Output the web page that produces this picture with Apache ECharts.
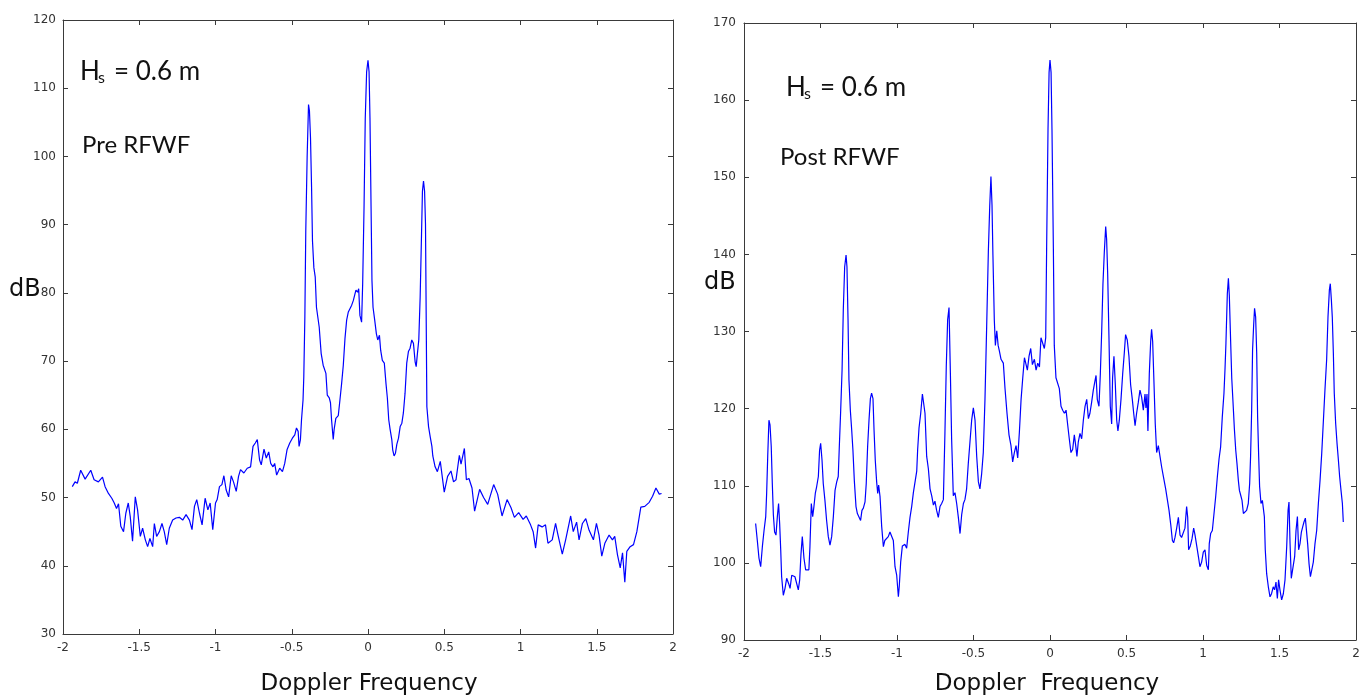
<!DOCTYPE html>
<html>
<head>
<meta charset="utf-8">
<script src="https://cdn.jsdelivr.net/npm/echarts@6/dist/echarts.min.js"></script>
<style>
html,body{margin:0;padding:0;background:#fff;}
#chart{width:1372px;height:700px;}
</style>
</head>
<body>
<div id="chart"></div>
<script>
// ---------- DATA ----------
const xTicks = [-2, -1.5, -1, -0.5, 0, 0.5, 1, 1.5, 2];
const leftYTicks = [30, 40, 50, 60, 70, 80, 90, 100, 110, 120];
const rightYTicks = [90, 100, 110, 120, 130, 140, 150, 160, 170];

const leftFreq = [
-1.939,-1.921,-1.906,-1.884,-1.855,-1.818,-1.796,-1.768,-1.741,-1.724,-1.702,-1.680,-1.664,-1.649,-1.636,-1.621,-1.603,-1.588,-1.572,-1.559,
-1.544,-1.526,-1.511,-1.493,-1.478,-1.460,-1.445,-1.430,-1.412,-1.401,-1.386,-1.368,-1.351,-1.336,-1.320,-1.303,-1.281,-1.259,-1.237,-1.215,
-1.193,-1.171,-1.154,-1.138,-1.123,-1.105,-1.088,-1.068,-1.050,-1.035,-1.018,-1.000,-0.989,-0.974,-0.958,-0.945,-0.930,-0.914,-0.897,-0.882,
-0.864,-0.849,-0.836,-0.814,-0.792,-0.770,-0.754,-0.739,-0.726,-0.711,-0.700,-0.682,-0.667,-0.651,-0.638,-0.623,-0.612,-0.599,-0.579,-0.561,
-0.546,-0.531,-0.513,-0.496,-0.480,-0.469,-0.458,-0.452,-0.443,-0.436,-0.426,-0.421,-0.414,-0.408,-0.399,-0.390,-0.384,-0.377,-0.370,-0.364,
-0.355,-0.346,-0.338,-0.320,-0.307,-0.294,-0.276,-0.267,-0.254,-0.246,-0.239,-0.228,-0.222,-0.211,-0.195,-0.184,-0.173,-0.162,-0.151,-0.140,
-0.129,-0.118,-0.107,-0.096,-0.085,-0.079,-0.068,-0.061,-0.053,-0.042,-0.035,-0.026,-0.018,-0.009,0.000,0.007,0.013,0.020,0.026,0.033,
0.044,0.055,0.064,0.075,0.083,0.094,0.107,0.118,0.127,0.136,0.145,0.156,0.162,0.171,0.180,0.189,0.200,0.211,0.222,0.232,
0.243,0.254,0.265,0.276,0.287,0.298,0.309,0.316,0.324,0.333,0.342,0.351,0.357,0.364,0.371,0.377,0.386,0.397,0.408,0.419,
0.425,0.440,0.455,0.474,0.500,0.522,0.544,0.561,0.577,0.599,0.610,0.632,0.645,0.662,0.682,0.699,0.732,0.758,0.785,0.824,
0.850,0.879,0.912,0.938,0.960,0.988,1.017,1.038,1.066,1.083,1.099,1.116,1.142,1.164,1.180,1.208,1.230,1.246,1.274,1.296,
1.329,1.346,1.368,1.384,1.406,1.428,1.450,1.478,1.498,1.515,1.533,1.553,1.581,1.603,1.618,1.636,1.654,1.669,1.684,1.697,
1.719,1.741,1.763,1.789,1.815,1.844,1.866,1.888,1.910,1.925
];
const leftDb = [
51.6,52.3,52.1,54.0,52.7,54.0,52.6,52.3,53.0,51.6,50.6,49.9,49.2,48.4,49.1,45.8,45.0,47.7,49.2,47.2,
43.6,50.1,48.2,44.3,45.5,43.8,42.8,44.0,42.8,46.2,44.3,45.0,46.2,45.0,43.1,45.5,46.7,47.0,47.1,46.7,
47.5,46.7,45.3,48.7,49.7,47.7,46.0,49.9,48.2,49.2,45.3,49.2,49.7,51.6,51.9,53.2,51.1,50.1,53.2,52.3,
50.9,53.1,54.1,53.6,54.3,54.5,57.5,58.0,58.5,55.5,54.8,57.1,55.8,56.7,55.0,54.5,55.0,53.3,54.3,53.8,
55.0,57.0,58.0,58.7,59.2,60.2,59.7,57.5,58.5,61.4,64.3,67.7,76.5,89.1,100.0,107.6,106.7,102.7,95.4,87.6,
83.7,82.3,77.9,75.0,71.1,69.4,68.2,65.0,64.6,63.9,61.4,58.5,60.0,61.6,62.0,64.3,66.7,69.4,73.3,76.0,
77.2,77.0,78.2,78.9,79.9,80.4,80.1,80.6,76.7,75.7,81.3,92.5,105.6,112.4,114.1,112.4,105.6,92.7,81.8,77.9,
76.0,74.0,73.1,73.8,71.6,70.1,69.7,66.7,64.6,61.4,60.0,58.5,57.0,56.1,56.5,57.8,58.7,60.4,60.9,62.4,
65.3,69.7,71.4,71.9,73.1,72.6,69.9,69.2,71.1,73.1,79.4,88.6,94.9,96.4,94.9,90.1,63.3,60.4,58.9,57.5,
56.1,54.5,53.8,55.3,50.8,53.1,53.9,52.3,52.6,56.2,54.9,57.2,52.6,52.8,51.4,48.0,51.2,50.0,49.0,51.9,
50.5,47.3,49.7,48.5,47.1,47.8,46.8,47.3,46.0,45.0,42.6,46.0,45.7,46.0,43.3,43.8,46.2,44.5,41.7,43.8,
47.3,45.0,46.4,43.8,46.2,46.9,45.2,43.8,46.2,44.5,41.4,43.3,44.5,43.8,44.3,41.6,39.7,41.9,37.6,42.1,
42.8,43.1,45.0,48.6,48.7,49.3,50.2,51.4,50.5,50.6
];

const rightFreq = [
-1.924,-1.913,-1.902,-1.891,-1.880,-1.869,-1.858,-1.852,-1.845,-1.837,-1.830,-1.822,-1.815,-1.808,-1.800,-1.791,-1.782,-1.774,-1.767,-1.760,
-1.754,-1.743,-1.732,-1.721,-1.708,-1.699,-1.688,-1.678,-1.667,-1.656,-1.645,-1.636,-1.628,-1.619,-1.608,-1.597,-1.584,-1.576,-1.569,-1.560,
-1.551,-1.543,-1.534,-1.525,-1.514,-1.506,-1.499,-1.490,-1.482,-1.471,-1.460,-1.449,-1.438,-1.427,-1.416,-1.405,-1.394,-1.384,-1.377,-1.368,
-1.359,-1.351,-1.342,-1.333,-1.327,-1.320,-1.314,-1.305,-1.296,-1.288,-1.279,-1.268,-1.259,-1.249,-1.238,-1.229,-1.220,-1.209,-1.201,-1.192,
-1.183,-1.174,-1.166,-1.157,-1.150,-1.142,-1.133,-1.126,-1.120,-1.111,-1.100,-1.089,-1.080,-1.068,-1.057,-1.046,-1.035,-1.024,-1.013,-1.002,
-0.991,-0.985,-0.976,-0.965,-0.948,-0.937,-0.926,-0.915,-0.904,-0.893,-0.882,-0.871,-0.865,-0.856,-0.845,-0.834,-0.826,-0.817,-0.806,-0.795,
-0.784,-0.773,-0.762,-0.752,-0.741,-0.730,-0.719,-0.708,-0.697,-0.687,-0.678,-0.669,-0.660,-0.651,-0.643,-0.632,-0.621,-0.610,-0.599,-0.588,
-0.577,-0.566,-0.556,-0.545,-0.534,-0.523,-0.512,-0.501,-0.490,-0.479,-0.468,-0.458,-0.447,-0.436,-0.425,-0.414,-0.403,-0.394,-0.386,-0.379,
-0.373,-0.364,-0.357,-0.348,-0.339,-0.331,-0.320,-0.305,-0.294,-0.281,-0.268,-0.255,-0.244,-0.233,-0.222,-0.211,-0.200,-0.189,-0.178,-0.167,
-0.157,-0.148,-0.137,-0.126,-0.115,-0.102,-0.091,-0.080,-0.069,-0.059,-0.048,-0.037,-0.028,-0.022,-0.013,-0.006,0.000,0.007,0.013,0.022,
0.028,0.039,0.050,0.061,0.072,0.083,0.094,0.105,0.115,0.126,0.137,0.148,0.159,0.168,0.176,0.185,0.196,0.207,0.218,0.229,
0.240,0.251,0.261,0.272,0.283,0.294,0.301,0.309,0.320,0.329,0.338,0.346,0.355,0.364,0.370,0.377,0.385,0.394,0.403,0.409,
0.418,0.427,0.436,0.444,0.453,0.464,0.475,0.486,0.494,0.505,0.516,0.527,0.538,0.547,0.556,0.566,0.577,0.588,0.599,0.610,
0.621,0.627,0.634,0.640,0.649,0.658,0.664,0.671,0.680,0.688,0.697,0.708,0.719,0.730,0.743,0.756,0.767,0.778,0.789,0.800,
0.808,0.817,0.828,0.839,0.850,0.860,0.871,0.882,0.893,0.900,0.906,0.917,0.928,0.939,0.948,0.959,0.970,0.980,0.991,1.002,
1.013,1.024,1.035,1.041,1.050,1.061,1.072,1.083,1.094,1.105,1.115,1.126,1.137,1.144,1.150,1.159,1.166,1.172,1.181,1.188,
1.196,1.205,1.214,1.222,1.231,1.238,1.246,1.255,1.264,1.275,1.285,1.296,1.305,1.311,1.318,1.324,1.331,1.337,1.344,1.351,
1.357,1.364,1.370,1.379,1.388,1.394,1.401,1.407,1.416,1.427,1.438,1.448,1.459,1.468,1.477,1.486,1.494,1.503,1.514,1.525,
1.536,1.547,1.556,1.562,1.569,1.577,1.588,1.599,1.608,1.617,1.625,1.634,1.643,1.652,1.660,1.669,1.678,1.684,1.693,1.702,
1.711,1.721,1.732,1.743,1.754,1.765,1.776,1.787,1.797,1.808,1.817,1.826,1.832,1.839,1.845,1.852,1.858,1.867,1.876,1.885,
1.893,1.902,1.911,1.917
];
const rightDb = [
105.1,102.9,100.6,99.5,102.1,104.2,106.0,109.0,113.8,118.5,117.9,115.1,110.3,106.2,104.0,103.6,106.0,107.7,105.1,101.7,
98.2,95.8,96.7,98.0,97.3,96.7,98.4,98.6,98.2,98.4,96.5,97.8,101.0,103.4,100.6,99.1,99.3,99.1,102.1,107.7,
106.0,107.3,109.0,109.9,111.2,114.6,115.5,113.3,110.3,108.1,105.5,103.4,102.3,103.4,106.0,109.4,110.5,111.2,115.1,119.8,
125.0,132.8,138.4,139.9,138.4,131.5,123.7,119.8,117.2,114.6,110.7,107.3,106.4,106.2,105.5,106.8,107.1,107.9,110.3,115.1,
118.5,121.3,122.0,121.3,117.2,113.3,110.5,109.0,110.1,108.6,104.7,102.1,102.9,102.7,103.4,104.0,104.2,102.9,99.5,98.4,
95.6,97.0,100.1,102.2,102.4,101.9,104.0,105.9,107.3,109.1,108.9,111.9,114.7,117.5,119.4,121.9,121.7,119.4,113.8,112.2,
109.6,108.7,107.5,108.0,106.8,105.9,107.3,107.7,108.2,116.6,125.4,131.5,133.1,124.5,116.1,108.7,109.1,107.7,105.9,103.8,
106.3,107.7,108.2,109.6,112.9,115.7,118.5,120.1,118.5,113.8,110.5,109.6,111.5,114.3,121.2,130.6,140.3,146.2,150.1,146.4,
139.9,131.5,128.2,130.1,128.2,127.5,126.4,125.9,122.6,119.4,116.6,115.2,113.1,114.3,115.2,113.6,117.0,121.2,124.0,126.6,
126.8,125.0,126.8,127.8,125.7,126.4,125.0,125.9,125.4,129.2,129.4,127.8,129.2,140.8,156.2,163.6,165.2,163.6,156.2,140.8,
128.2,124.0,123.8,122.6,120.3,119.8,119.4,119.8,118.0,116.1,114.3,114.7,116.6,115.2,113.8,115.7,116.8,116.1,118.5,120.3,
121.2,118.7,119.4,120.8,122.4,123.6,124.3,121.2,120.3,124.5,130.1,136.1,140.3,143.6,142.0,137.5,129.6,120.3,118.0,124.0,
126.8,123.1,118.5,117.1,118.5,121.2,124.5,127.3,129.6,128.9,126.8,123.1,121.2,119.4,117.8,119.4,120.8,122.4,121.5,119.8,
121.9,120.1,121.9,117.1,124.5,128.7,130.3,128.7,123.1,118.0,114.3,115.2,115.0,112.4,111.0,109.6,108.2,106.8,105.0,102.9,
102.6,103.3,104.5,105.9,103.6,103.3,103.1,104.5,107.3,105.9,101.7,102.2,103.1,104.5,103.6,102.2,100.8,99.5,100.1,101.4,
101.7,99.7,99.1,102.5,103.8,104.2,106.4,108.6,111.2,113.5,115.0,118.9,122.0,125.2,128.5,134.9,136.9,134.7,128.5,123.9,
120.9,117.4,114.6,112.9,110.7,109.4,108.8,108.1,106.4,106.2,106.8,107.7,110.3,113.8,119.8,127.6,130.8,133.0,131.9,127.2,
118.9,113.8,109.9,107.7,108.1,107.9,106.0,101.7,98.6,96.9,95.6,96.0,96.9,96.5,97.5,95.4,97.8,96.5,95.2,96.0,
97.8,102.1,106.8,107.9,102.5,98.0,97.8,100.8,104.2,106.0,101.7,102.5,104.0,104.7,105.3,105.8,106.0,102.5,99.9,98.2,
98.4,100.1,102.5,104.2,107.7,110.7,114.2,118.5,122.4,126.3,131.9,135.4,136.2,134.1,131.9,127.2,122.0,118.1,115.5,113.3,
111.2,109.4,107.7,105.3
];

// ---------- CHART ----------
const chart = echarts.init(document.getElementById('chart'));
const zip = (xs, ys) => xs.map((x, i) => [x, ys[i]]);
const AX = '#3a3a3a';
const LBL = { color: '#333', fontSize: 12, fontFamily: 'DejaVu Sans' };

function xAx(grid, pos, showLabel, margin) {
  return {
    type: 'value', gridIndex: grid, position: pos,
    min: xTicks[0], max: xTicks[xTicks.length - 1], interval: xTicks[1] - xTicks[0],
    axisLine: { show: true, onZero: false, lineStyle: { color: AX, width: 1 } },
    axisTick: { show: true, inside: true, length: 5, lineStyle: { color: AX } },
    axisLabel: Object.assign({ show: showLabel, margin: margin, showMinLabel: true, showMaxLabel: true }, LBL),
    splitLine: { show: false }
  };
}
function yAx(grid, pos, ticks, showLabel, margin) {
  return {
    type: 'value', gridIndex: grid, position: pos,
    min: ticks[0], max: ticks[ticks.length - 1], interval: ticks[1] - ticks[0],
    axisLine: { show: true, onZero: false, lineStyle: { color: AX, width: 1 } },
    axisTick: { show: true, inside: true, length: 5, lineStyle: { color: AX } },
    axisLabel: Object.assign({ show: showLabel, margin: margin, showMinLabel: true, showMaxLabel: true }, LBL),
    splitLine: { show: false }
  };
}

const txt = (x, y, text, size, family, align) => ({
  type: 'text', x: x, y: y, silent: true,
  style: { text: text, fill: '#111', font: size + 'px "' + family + '"', textAlign: align || 'left', textVerticalAlign: 'middle' }
});

chart.setOption({
  animation: false,
  backgroundColor: '#fff',
  grid: [
    { left: 63, top: 20, width: 610, height: 614, show: false },
    { left: 744, top: 23, width: 612, height: 617, show: false }
  ],
  xAxis: [
    xAx(0, 'bottom', true, 8), xAx(0, 'top', false, 8),
    xAx(1, 'bottom', true, 8), xAx(1, 'top', false, 8)
  ],
  yAxis: [
    yAx(0, 'left', leftYTicks, true, 7), yAx(0, 'right', leftYTicks, false, 7),
    yAx(1, 'left', rightYTicks, true, 8), yAx(1, 'right', rightYTicks, false, 8)
  ],
  series: [
    { type: 'line', xAxisIndex: 0, yAxisIndex: 0, data: zip(leftFreq, leftDb), showSymbol: false,
      lineStyle: { color: '#0000ff', width: 1.2 }, silent: true },
    { type: 'line', xAxisIndex: 2, yAxisIndex: 2, data: zip(rightFreq, rightDb), showSymbol: false,
      lineStyle: { color: '#0000ff', width: 1.2 }, silent: true }
  ],
  graphic: [
    txt(9, 290, 'dB', 24, 'DejaVu Sans'),
    txt(704, 283, 'dB', 24, 'DejaVu Sans'),
    txt(369, 684, 'Doppler Frequency', 23, 'DejaVu Sans', 'center'),
    txt(1047, 684, 'Doppler  Frequency', 23, 'DejaVu Sans', 'center'),
    txt(80, 72, 'H', 26, 'Lato'),
    txt(98, 78, 's', 16, 'Lato'),
    txt(114, 72, '= 0.6 m', 26, 'Lato'),
    txt(82, 145, 'Pre RFWF', 24, 'Lato'),
    txt(786, 88, 'H', 26, 'Lato'),
    txt(804, 94, 's', 16, 'Lato'),
    txt(820, 88, '= 0.6 m', 26, 'Lato'),
    txt(780, 157, 'Post RFWF', 24, 'Lato')
  ]
});
</script>
</body>
</html>
